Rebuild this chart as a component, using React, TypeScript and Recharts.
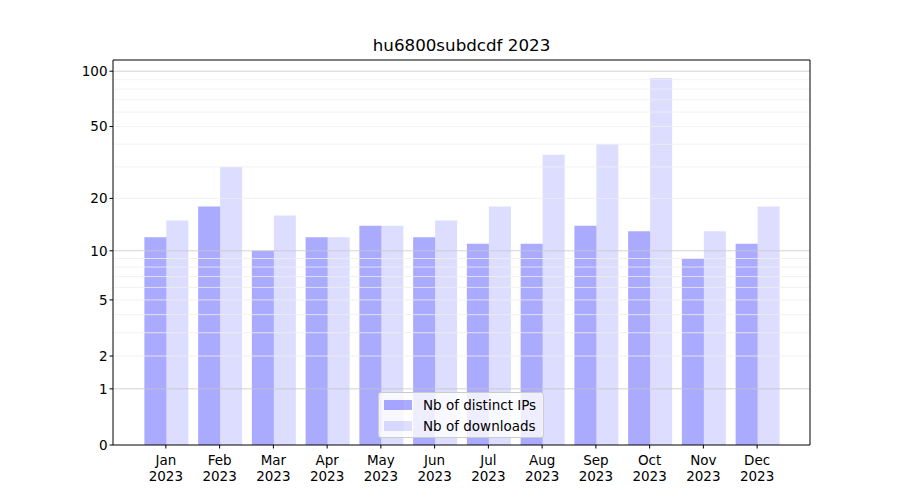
import { BarChart, Bar, XAxis, YAxis, ReferenceLine } from 'recharts';

const months = ['Jan', 'Feb', 'Mar', 'Apr', 'May', 'Jun', 'Jul', 'Aug', 'Sep', 'Oct', 'Nov', 'Dec'];
const distinctIps = [12, 18, 10, 12, 14, 12, 11, 11, 14, 13, 9, 11];
const downloads = [15, 30, 16, 12, 14, 15, 18, 35, 40, 92, 13, 18];
const yTicks = [0, 1, 2, 5, 10, 20, 50, 100];
const majorGrid = [1, 10, 100];
const minorGrid = [2, 3, 4, 5, 6, 7, 8, 9, 20, 30, 40, 50, 60, 70, 80, 90];

const data = months.map((m, i) => ({
  month: m,
  label: `${m} 2023`,
  ips: distinctIps[i],
  downloads: downloads[i],
}));

const FONT = 'DejaVu Sans, sans-serif';

const MonthTick = ({ x, y, payload }: any) => {
  const [m, yr] = String(payload.value).split(' ');
  return (
    <text x={x} y={y} textAnchor="middle" fontFamily={FONT} fontSize={13.5} fill="#000">
      <tspan x={x} dy={14}>{m}</tspan>
      <tspan x={x} dy={16}>{yr}</tspan>
    </text>
  );
};

const LegendBox = () => (
  <div
    style={{
      position: 'absolute',
      left: 378,
      top: 392,
      background: 'rgba(255,255,255,0.8)',
      border: '1px solid #cccccc',
      borderRadius: 3,
      width: 166,
      height: 46,
      boxSizing: 'border-box',
      padding: '1px 0 0 5px',
      fontFamily: FONT,
      fontSize: 13.5,
      color: '#000',
      zIndex: 3,
    }}
  >
    {[
      { name: 'Nb of distinct IPs', color: 'rgba(0,0,255,0.333)' },
      { name: 'Nb of downloads', color: 'rgba(0,0,255,0.133)' },
    ].map((it) => (
      <div key={it.name} style={{ display: 'flex', alignItems: 'center', height: 21 }}>
        <span style={{ display: 'inline-block', width: 28, height: 10, background: it.color, marginRight: 11 }} />
        <span style={{ lineHeight: '18px' }}>{it.name}</span>
      </div>
    ))}
  </div>
);

export default function App() {
  return (
    <div style={{ position: 'relative', width: 900, height: 500, background: '#fff' }}>
      <style>{`body{margin:0}`}</style>
      <div
        style={{
          position: 'absolute',
          top: 35,
          left: 0,
          width: 923,
          textAlign: 'center',
          fontFamily: FONT,
          fontSize: 16.7,
          color: '#000',
          zIndex: 2,
        }}
      >
        hu6800subdcdf 2023
      </div>
      <LegendBox />
      <BarChart
        width={900}
        height={500}
        data={data}
        margin={{ top: 59, right: 89, left: 63, bottom: 15 }}
        barCategoryGap="10%"
        barGap={0}
      >
        {minorGrid.map((v) => (
          <ReferenceLine key={`mn${v}`} y={v} stroke="#efefef" strokeWidth={0.8} ifOverflow="hidden" />
        ))}
        {majorGrid.map((v) => (
          <ReferenceLine key={`mj${v}`} y={v} stroke="#c8c8c8" strokeWidth={0.8} ifOverflow="hidden" />
        ))}
        <XAxis
          dataKey="label"
          interval={0}
          height={40}
          padding={{ left: 26, right: 26 }}
          tick={<MonthTick />}
          tickSize={3.5}
          tickLine={{ stroke: '#000' }}
          axisLine={{ stroke: '#000' }}
        />
        <XAxis xAxisId="top" dataKey="label" orientation="top" height={1} tick={false} tickLine={false} axisLine={{ stroke: '#000' }} />
        <YAxis
          scale="symlog"
          domain={[0, 115]}
          ticks={yTicks}
          interval={0}
          allowDataOverflow
          width={50}
          tickSize={3.5}
          tickLine={{ stroke: '#000' }}
          axisLine={{ stroke: '#000' }}
          tick={{ fontFamily: FONT, fontSize: 13.5, fill: '#000' }}
        />
        <YAxis yAxisId="right" orientation="right" width={1} tick={false} tickLine={false} axisLine={{ stroke: '#000' }} />
        <Bar dataKey="ips" name="Nb of distinct IPs" fill="#0000ff" fillOpacity={0.333} isAnimationActive={false} />
        <Bar dataKey="downloads" name="Nb of downloads" fill="#0000ff" fillOpacity={0.133} isAnimationActive={false} />
      </BarChart>
    </div>
  );
}
